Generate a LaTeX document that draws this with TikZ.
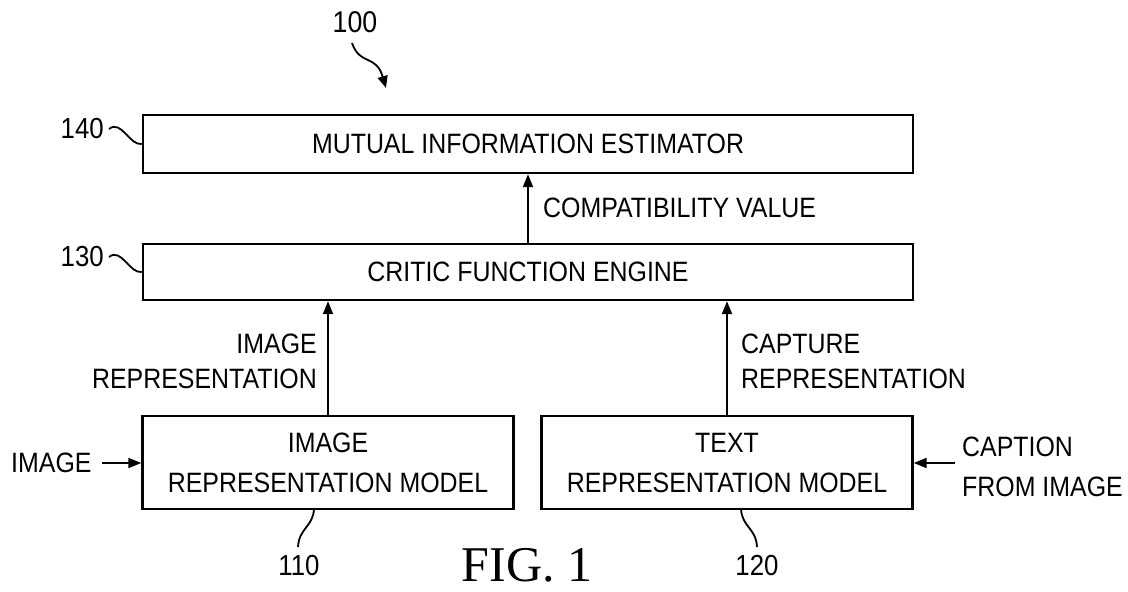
\documentclass[tikz,border=0pt]{standalone}
\usepackage{fontspec}
\setmainfont[FakeStretch=0.89]{Liberation Sans}
\newfontfamily\figfont{Liberation Serif}
\usetikzlibrary{arrows.meta}
\tikzset{
  lbl/.style={font=\fontsize{28}{35}\selectfont, inner sep=0pt},
  blk/.style={draw, line width=2.4pt, font=\fontsize{28}{40}\selectfont, align=center, inner sep=0pt},
  arr/.style={line width=2pt, -{Triangle[length=13pt,width=10pt]}},
  lead/.style={line width=1.8pt}
}
\begin{document}
\begin{tikzpicture}[x=1pt,y=-1pt]
\useasboundingbox (0,0) rectangle (1128,592);
% boxes
\node[blk, minimum width=770, minimum height=58] (b140) at (528,144) {MUTUAL INFORMATION ESTIMATOR};
\node[blk, minimum width=770, minimum height=56] (b130) at (528,272) {CRITIC FUNCTION ENGINE};
\node[blk, minimum width=371, minimum height=93] (b110) at (328,462.5) {IMAGE\\REPRESENTATION MODEL};
\node[blk, minimum width=371, minimum height=93] (b120) at (727,462.5) {TEXT\\REPRESENTATION MODEL};
% arrows between boxes
\draw[arr] (b130.north) -- (b140.south);
\draw[arr] (b110.north) -- (b110.north |- b130.south);
\draw[arr] (b120.north) -- (b120.north |- b130.south);
% arrow labels
\node[lbl, anchor=west] (cv) at (543,208) {COMPATIBILITY VALUE};
\node[lbl, anchor=east, align=right] (irl) at (317,361) {IMAGE\\REPRESENTATION};
\node[lbl, anchor=west, align=left] (crl) at (741,361) {CAPTURE\\REPRESENTATION};
% inputs
\node[lbl, anchor=west] (img) at (11,463) {IMAGE};
\coordinate (imgs) at (102,463);
\draw[arr] (imgs) -- (imgs -| b110.west);
\node[lbl, anchor=west, align=left, font=\fontsize{28}{40}\selectfont] (cap) at (962,467) {CAPTION\\FROM IMAGE};
\coordinate (caps) at (955,463);
\draw[arr] (caps) -- (caps -| b120.east);
% reference numerals
\node[lbl, anchor=east, font=\fontsize{29}{35}\selectfont] (n140) at (104,129) {140};
\draw[lead] (n140.east) ++(5,0) .. controls +(12,-10) and +(-12,2) .. (b140.west);
\node[lbl, anchor=east, font=\fontsize{29}{35}\selectfont] (n130) at (104,257) {130};
\draw[lead] (n130.east) ++(5,0) .. controls +(12,-10) and +(-12,2) .. (b130.west);
\node[lbl, font=\fontsize{30}{35}\selectfont] (n100) at (355,22) {100};
\coordinate (a100s) at (352,43);
\coordinate (a100e) at (386,88);
\draw[line width=1.8pt, -{Triangle[length=12pt,width=10pt]}] (a100s) .. controls (360,66) and (376,54) .. (a100e);
\node[lbl, font=\fontsize{29}{35}\selectfont] (n110) at (299,566) {110};
\coordinate (l110) at (314,509);
\draw[lead] (l110) .. controls (313,527) and (299,528) .. (298,547);
\node[lbl, font=\fontsize{29}{35}\selectfont] (n120) at (757,566) {120};
\coordinate (l120) at (741,509);
\draw[lead] (l120) .. controls (742,527) and (756,528) .. (757,547);
% figure caption
\node[inner sep=0pt, font=\figfont\fontsize{50}{52}\selectfont] (fig) at (527,565) {FIG. 1};
\end{tikzpicture}
\end{document}
